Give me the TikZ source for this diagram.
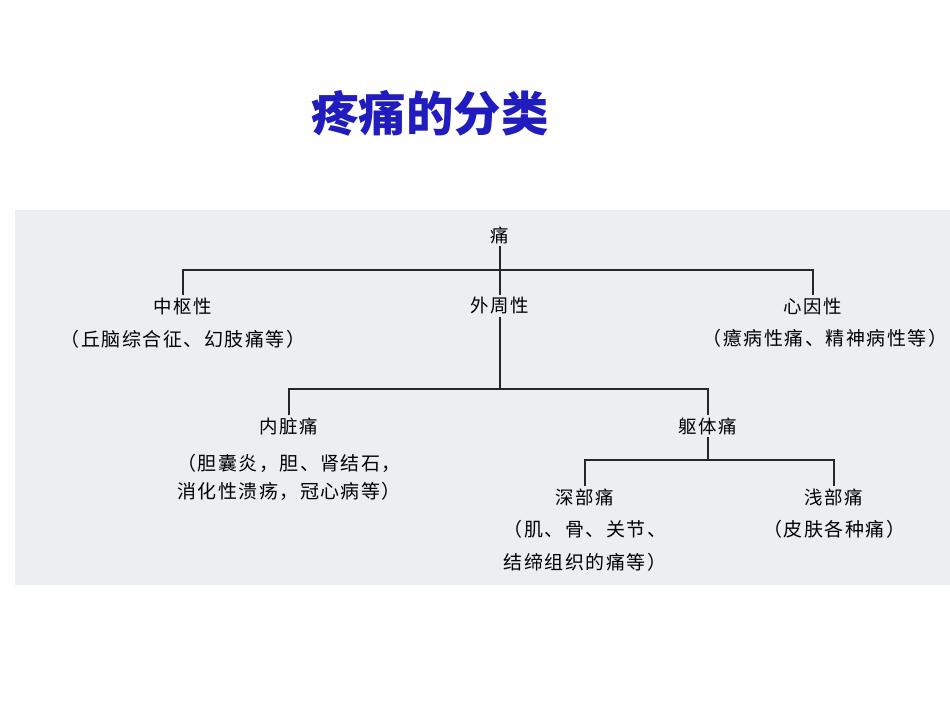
\documentclass[tikz,border=0pt]{standalone}
\usepackage{fontspec}
\setmainfont{Noto Sans CJK SC}
\newfontfamily\cjk{Noto Sans CJK SC}
\newfontfamily\cjkwide[LetterSpace=8]{Noto Sans CJK SC}
\usetikzlibrary{positioning}
\definecolor{titleblue}{RGB}{32,28,190}
\definecolor{scangrey}{RGB}{236,238,241}
\tikzset{
  lbl/.style={inner sep=1pt, font=\cjkwide\fontsize{10.5}{12}\selectfont},
  note/.style={inner sep=1pt, font=\cjkwide\fontsize{10.8}{12}\selectfont},
  branch/.style={line width=0.8pt, draw=black!85}
}

\begin{document}
\begin{tikzpicture}[x=0.02cm, y=-0.02cm]
		\useasboundingbox (0,0) rectangle (950,713);
		\fill[scangrey] (15,210) rectangle (950,585);
		
		\node[font=\cjk\bfseries\fontsize{27}{30}\selectfont, text=titleblue] (title) at (430,113) {疼痛的分类};
		
		% top level
		\node[lbl] (tong) at (500,235) {痛};
		\node[lbl] (zhongshu) at (183,306) {中枢性};
		\node[note] (zhongshunote) at (183,339) {（丘脑综合征、幻肢痛等）};
		\node[lbl] (waizhou) at (500,306) {外周性};
		\node[lbl] (xinyin) at (813,306) {心因性};
		\node[note] (xinyinnote) at (825,338) {（癔病性痛、精神病性等）};
		
		% peripheral
		\node[lbl] (neizang) at (289,426) {内脏痛};
		\node[note] (neizangnote1) at (289,463) {（胆囊炎，胆、肾结石，};
		\node[note] (neizangnote2) at (289,491) {消化性溃疡，冠心病等）};
		\node[lbl] (quti) at (708,426) {躯体痛};
		
		% somatic
		\node[lbl] (shenbu) at (585,497) {深部痛};
		\node[note] (shenbunote1) at (585,529) {（肌、骨、关节、};
		\node[note] (shenbunote2) at (585,562) {结缔组织的痛等）};
		\node[lbl] (qianbu) at (834,497) {浅部痛};
		\node[note] (qianbunote) at (834,529) {（皮肤各种痛）};
		
		\coordinate (bara) at (500,270);
		\coordinate (barb) at (500,389);
		\coordinate (barc) at (708,460);
		
		\draw[branch] (tong) -- (waizhou);
		\draw[branch] (zhongshu.north) -- (zhongshu |- bara) -- (xinyin |- bara) -- (xinyin.north);
		\draw[branch] (waizhou) -- (barb);
		\draw[branch] (neizang.north) -- (neizang |- barb) -- (quti |- barb) -- (quti.north);
		\draw[branch] (quti) -- (barc);
		\draw[branch] (shenbu.north) -- (shenbu |- barc) -- (qianbu |- barc) -- (qianbu.north);
\end{tikzpicture}
\end{document}
